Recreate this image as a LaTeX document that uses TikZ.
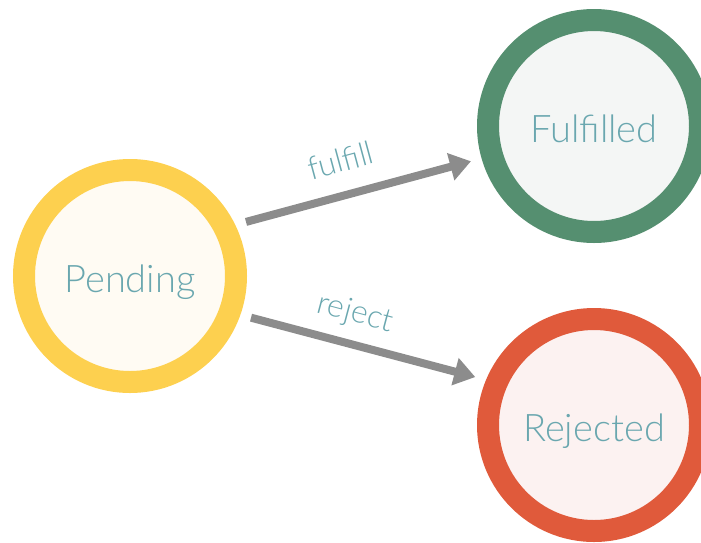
\documentclass[tikz,border=0pt]{standalone}
\usepackage{fontspec}
\setmainfont{Lato Light}
\usetikzlibrary{positioning,arrows.meta}

\definecolor{pendingring}{HTML}{FDD04F}
\definecolor{pendingfill}{HTML}{FFFBF3}
\definecolor{fulfilledring}{HTML}{558F70}
\definecolor{fulfilledfill}{HTML}{F4F6F5}
\definecolor{rejectedring}{HTML}{E05A3B}
\definecolor{rejectedfill}{HTML}{FCF2F1}
\definecolor{labeltext}{HTML}{6AA7AF}
\definecolor{arrowgrey}{HTML}{8C8C8C}

\begin{document}
\begin{tikzpicture}[x=1pt, y=1pt, auto,
        state/.style = {circle, line width=22pt, minimum size=212pt, inner sep=0pt,
            outer sep=22pt, text=labeltext, font=\fontsize{38}{44}\selectfont,
            text height=32pt, text depth=0pt},
        move/.style = {-{Triangle[length=21pt,width=27pt]}, line width=8pt, draw=arrowgrey},
        note/.style = {text=labeltext, font=\fontsize{32}{38}\selectfont, sloped, inner sep=16pt}]
        \useasboundingbox (0,-542) rectangle (701,0);
        \clip (0,-542) rectangle (701,0);

        \node (Pending) [state, draw=pendingring, fill=pendingfill] at (130,-276) {Pending};
        \node (Fulfilled) [state, draw=fulfilledring, fill=fulfilledfill, on grid, above right = 150pt and 464pt of Pending] {Fulfilled};
        \node (Rejected) [state, draw=rejectedring, fill=rejectedfill, on grid, below right = 149pt and 464pt of Pending] {Rejected};

        \draw[move] (Pending.25) -- node[note, pos=0.46, inner sep=19pt] {fulfill} (Fulfilled.196);
        \draw[move] (Pending.341) -- node[note, pos=0.43, inner sep=12pt] {reject} (Rejected.158);
    \end{tikzpicture}
\end{document}
